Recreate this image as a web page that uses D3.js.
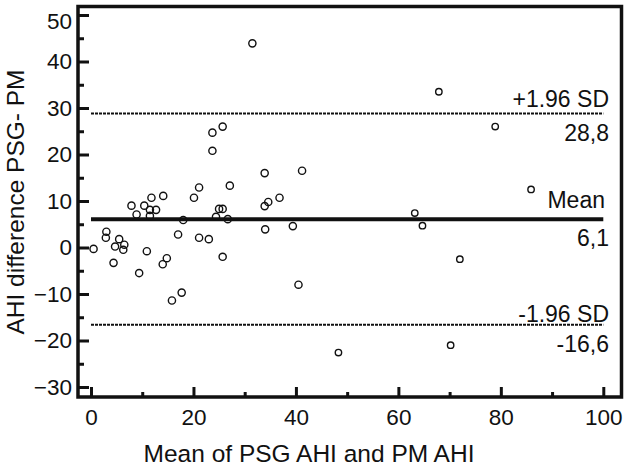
<!DOCTYPE html>
<html>
<head>
<meta charset="utf-8">
<script src="https://cdn.jsdelivr.net/npm/d3@7"></script>
<style>
  html, body { margin: 0; padding: 0; background: #fff; }
  svg text { font-family: "Liberation Sans", Arial, sans-serif; fill: #111; }
</style>
</head>
<body>
<svg id="chart" width="630" height="471"></svg>
<script>
// Bland-Altman: mean of PSG AHI and PM AHI vs difference
const meanAHI = [0.5, 3.0, 2.9, 4.4, 4.7, 5.5, 6.3, 6.5, 7.9, 8.9,
  9.4, 10.4, 10.9, 11.5, 11.5, 11.8, 12.7, 14.0, 14.1, 14.8,
  15.8, 17.0, 17.7, 18.0, 20.1, 21.1, 21.1, 23.0, 23.7, 23.7,
  24.4, 25.0, 25.7, 25.7, 25.7, 26.7, 27.1, 31.5, 33.9, 33.9,
  34.6, 34.0, 36.8, 39.4, 40.5, 41.2, 48.3, 63.2, 64.7, 67.9,
  70.2, 72.0, 78.9, 85.9];
const diffAHI = [-0.3, 3.4, 2.1, -3.3, 0.2, 1.8, -0.5, 0.6, 9.0, 7.1,
  -5.5, 9.0, -0.8, 8.1, 6.8, 10.7, 8.1, -3.6, 11.1, -2.3,
  -11.4, 2.8, -9.7, 5.9, 10.7, 12.9, 2.1, 1.8, 24.7, 20.8,
  6.6, 8.3, 8.3, 26.0, -2.0, 6.1, 13.3, 43.9, 16.0, 8.9,
  9.8, 3.9, 10.7, 4.6, -8.0, 16.5, -22.6, 7.4, 4.7, 33.5,
  -21.0, -2.5, 26.0, 12.5];

const limitValues = [28.8, 6.1, -16.6];
const limitNames = ['+1.96 SD', 'Mean', '-1.96 SD'];
const limitLabels = ['28,8', '6,1', '-16,6'];

const xMajor = [0, 20, 40, 60, 80, 100];
const xMinor = [10, 30, 50, 70, 90];
const yMajor = [-30, -20, -10, 0, 10, 20, 30, 40, 50];
const yMinor = [-25, -15, -5, 5, 15, 25, 35, 45];

const frame = { left: 78, right: 621.5, top: 6.5, bottom: 397 };

const svg = d3.select('#chart');

const x = d3.scaleLinear().domain([0, 100]).range([91, 603.3]);
const y = d3.scaleLinear().domain([-30, 50]).range([387, 15]);

// axes (ticks point inward)
const gx = svg.append('g').attr('transform', `translate(0,${frame.bottom})`);
gx.call(d3.axisBottom(x).tickValues(xMajor).tickSize(-10).tickPadding(12));
gx.append('g').call(d3.axisBottom(x).tickValues(xMinor).tickSize(-5).tickFormat(''));

const gy = svg.append('g').attr('transform', `translate(${frame.left},0)`);
gy.call(d3.axisLeft(y).tickValues(yMajor).tickSize(-11).tickPadding(6));
gy.append('g').call(d3.axisLeft(y).tickValues(yMinor).tickSize(-6).tickFormat(''));

svg.selectAll('.domain').remove();
svg.selectAll('.tick line').attr('stroke', '#111').attr('stroke-width', 3);
svg.selectAll('.tick text')
  .style('font-size', '22.5px')
  .style('font-family', '"Liberation Sans", Arial, sans-serif')
  .attr('fill', '#111');
// top label sits a little below its tick, as in the original
gy.selectAll('.tick text').filter(d => d === 50).attr('dy', '0.62em');

// frame
svg.append('rect')
  .attr('x', frame.left).attr('y', frame.top)
  .attr('width', frame.right - frame.left)
  .attr('height', frame.bottom - frame.top)
  .attr('fill', 'none')
  .attr('stroke', '#111')
  .attr('stroke-width', 3.5);

// limit lines
svg.append('g').selectAll('line')
  .data(limitValues)
  .enter().append('line')
  .attr('x1', x(0)).attr('x2', x(100))
  .attr('y1', d => y(d)).attr('y2', d => y(d))
  .attr('stroke', '#111')
  .attr('stroke-width', (d, i) => i === 1 ? 4 : 2)
  .attr('stroke-dasharray', (d, i) => i === 1 ? null : '3,1');

const nameDy = [-7, -11, -3];
const labelG = svg.append('g').style('font-size', '23px').attr('text-anchor', 'end');
labelG.selectAll('text.name')
  .data(limitValues)
  .enter().append('text')
  .attr('class', 'name')
  .attr('x', (d, i) => i === 1 ? 605 : 609)
  .attr('y', (d, i) => y(d) + nameDy[i])
  .text((d, i) => limitNames[i]);
labelG.selectAll('text.val')
  .data(limitValues)
  .enter().append('text')
  .attr('class', 'val')
  .attr('x', 609)
  .attr('y', d => y(d) + 27)
  .text((d, i) => limitLabels[i]);

// points
svg.append('g').selectAll('circle')
  .data(meanAHI)
  .enter().append('circle')
  .attr('cx', d => x(d))
  .attr('cy', (d, i) => y(diffAHI[i]))
  .attr('r', d => d < 45 ? 3.6 : 3.2)
  .attr('fill', 'none')
  .attr('stroke', '#111')
  .attr('stroke-width', 1.4);

// axis titles
svg.append('text')
  .attr('x', 309)
  .attr('y', 462)
  .attr('text-anchor', 'middle')
  .style('font-size', '24.5px')
  .text('Mean of PSG AHI and PM AHI');

svg.append('text')
  .attr('transform', 'translate(24,202) rotate(-90)')
  .attr('text-anchor', 'middle')
  .style('font-size', '24.5px')
  .text('AHI difference PSG- PM');
</script>
</body>
</html>
